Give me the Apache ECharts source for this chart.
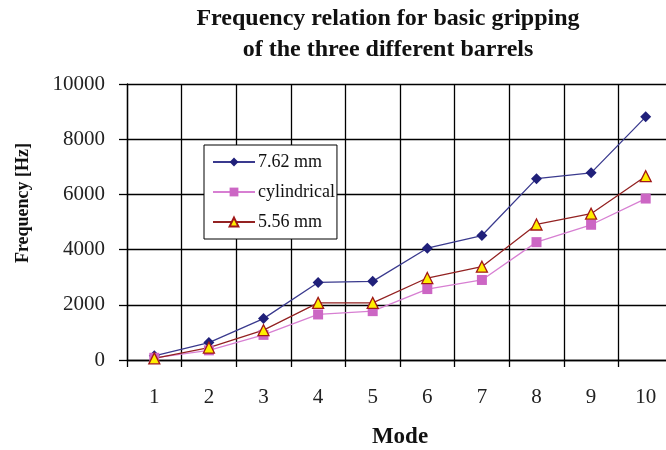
<!DOCTYPE html>
<html>
<head>
<meta charset="utf-8">
<script src="https://cdn.jsdelivr.net/npm/echarts@6/dist/echarts.min.js"></script>
<style>
  html, body { margin: 0; padding: 0; background: #fff; }
  #main { width: 666px; height: 450px; }
</style>
</head>
<body>
<div id="main"></div>
<script>
// modes on the x axis
var modes = ['1', '2', '3', '4', '5', '6', '7', '8', '9', '10'];
// frequencies, in Hz
var barrel762 = [150, 630, 1500, 2810, 2850, 4050, 4510, 6570, 6780, 8810];
var cylindrical = [80, 350, 910, 1650, 1770, 2570, 2900, 4270, 4900, 5850];
var barrel556 = [60, 450, 1080, 2070, 2070, 2970, 3380, 4910, 5300, 6660];

var serif = 'Liberation Serif';

var myChart = echarts.init(document.getElementById('main'));
var option = {
    backgroundColor: '#fff',
    animation: false,
    title: {
        text: 'Frequency relation for basic gripping\nof the three different barrels',
        left: 383,
        top: -2,
        textAlign: 'center',
        textStyle: {
            fontFamily: serif,
            fontWeight: 'bold',
            fontSize: 24,
            lineHeight: 31,
            color: '#111'
        }
    },
    //图例
    legend: {
        orient: 'vertical',
        left: 204,
        top: 145,
        itemWidth: 42,
        itemHeight: 11,
        itemGap: 12,
        padding: [8, 2, 8, 8],
        backgroundColor: '#fff',
        borderColor: '#000',
        borderWidth: 1,
        textStyle: { fontFamily: serif, fontSize: 18, color: '#111', padding: [0, 0, 0, -2] },
        data: ['7.62 mm', 'cylindrical', '5.56 mm']
    },
    grid: {
        left: 127,
        top: 84,
        width: 546,
        height: 276,
        outerBoundsMode: 'none'
    },
    xAxis: {
        type: 'category',
        data: modes,
        boundaryGap: true,
        name: 'Mode',
        nameLocation: 'middle',
        nameGap: 66,
        nameTextStyle: { fontFamily: serif, fontWeight: 'bold', fontSize: 23, color: '#111' },
        axisLine: { lineStyle: { color: '#000', width: 1.3 } },
        axisTick: { show: true, length: 7, lineStyle: { color: '#000', width: 1.3 } },
        splitLine: { show: true, lineStyle: { color: '#000', width: 1.3 } },
        axisLabel: { margin: 27, fontFamily: serif, fontSize: 21, color: '#222' }
    },
    yAxis: {
        type: 'value',
        min: 0,
        max: 10000,
        interval: 2000,
        name: 'Frequency [Hz]',
        nameLocation: 'middle',
        nameRotate: 90,
        nameGap: 95,
        nameTextStyle: { fontFamily: serif, fontWeight: 'bold', fontSize: 18, color: '#111', padding: [0, 0, 0, 38] },
        axisLine: { show: true, lineStyle: { color: '#000', width: 1.3 } },
        axisTick: { show: true, length: 8, lineStyle: { color: '#000', width: 1.3 } },
        splitLine: { show: true, lineStyle: { color: '#000', width: 1.3 } },
        axisLabel: {
            margin: 22,
            fontFamily: serif,
            fontSize: 21,
            color: '#222',
            formatter: function (v) { return String(v); }
        }
    },
    series: [
        {
            name: '7.62 mm',
            type: 'line',
            data: barrel762,
            symbol: 'diamond',
            symbolSize: 11,
            color: '#2b2b80',
            lineStyle: { color: '#3a3a8e', width: 1.3 },
            itemStyle: { color: '#20207a' }
        },
        {
            name: 'cylindrical',
            type: 'line',
            data: cylindrical,
            symbol: 'rect',
            symbolSize: 10,
            color: '#cc66cc',
            lineStyle: { color: '#d77fd2', width: 1.3 },
            itemStyle: { color: '#cc66c4' }
        },
        {
            name: '5.56 mm',
            type: 'line',
            data: barrel556,
            symbol: 'triangle',
            symbolSize: 11,
            color: '#8b1a1a',
            lineStyle: { color: '#932222', width: 1.3 },
            itemStyle: { color: '#ffee00', borderColor: '#a01818', borderWidth: 1.3 }
        }
    ]
};
myChart.setOption(option);
</script>
</body>
</html>
